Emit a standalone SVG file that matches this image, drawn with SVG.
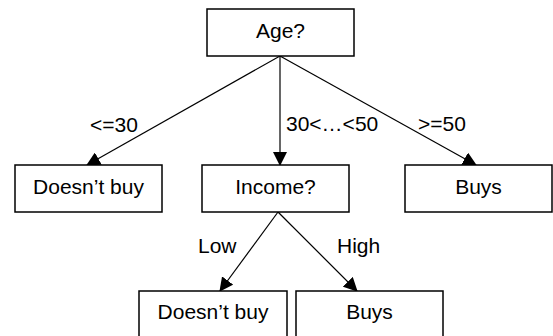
<svg xmlns="http://www.w3.org/2000/svg" width="553" height="336" viewBox="0 0 553 336">
<style>
.box{fill:#fff;stroke:#000;stroke-width:1.5}
.lbl{font-family:"Liberation Sans",Arial,sans-serif;font-size:21px;fill:#000}
.c{text-anchor:middle}
.edge{stroke:#000;stroke-width:1.2;fill:none;marker-end:url(#ah)}
</style>
<defs>
<marker id="ah" markerUnits="userSpaceOnUse" markerWidth="14" markerHeight="14" viewBox="0 0 14 14" refX="13" refY="7" orient="auto">
<path d="M0,0 L14,7 L0,14 Z" fill="#000"/>
</marker>
</defs>
<rect width="553" height="336" fill="#fff"/>
<g id="connectors">
<line class="edge" x1="280" y1="56" x2="87" y2="165"/>
<line class="edge" x1="280" y1="56" x2="280" y2="165"/>
<line class="edge" x1="280" y1="56" x2="476" y2="165"/>
<line class="edge" x1="278" y1="212" x2="220" y2="291"/>
<line class="edge" x1="278" y1="212" x2="357" y2="291"/>
<text class="lbl" x="90" y="132">&lt;=30</text>
<text class="lbl" x="286" y="131">30&lt;…&lt;50</text>
<text class="lbl" x="418" y="131">&gt;=50</text>
<text class="lbl" x="198" y="253">Low</text>
<text class="lbl" x="337" y="253">High</text>
</g>
<g id="age">
<rect class="box" x="207" y="9" width="147" height="47"/>
<text class="lbl c" x="280.5" y="38">Age?</text>
</g>
<g id="doesnt1">
<rect class="box" x="15" y="165" width="147" height="47"/>
<text class="lbl c" x="88.5" y="194">Doesn’t buy</text>
</g>
<g id="income">
<rect class="box" x="202" y="165" width="147" height="47"/>
<text class="lbl c" x="275.5" y="194">Income?</text>
</g>
<g id="buys1">
<rect class="box" x="405" y="165" width="147" height="47"/>
<text class="lbl c" x="478.5" y="194">Buys</text>
</g>
<g id="doesnt2">
<rect class="box" x="139" y="291" width="148" height="47"/>
<text class="lbl c" x="213" y="319">Doesn’t buy</text>
</g>
<g id="buys2">
<rect class="box" x="296" y="291" width="147" height="47"/>
<text class="lbl c" x="369.5" y="319">Buys</text>
</g>
</svg>
